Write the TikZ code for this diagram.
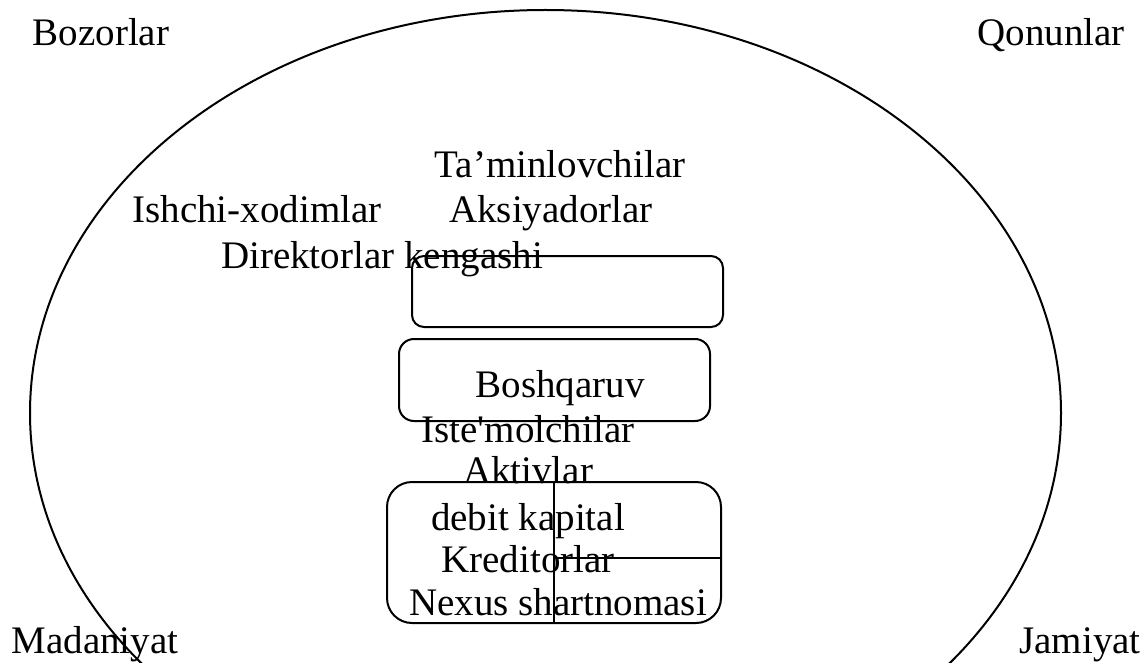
\documentclass[tikz,border=0pt]{standalone}
\usepackage{fontspec}
\setmainfont{Liberation Serif}
\usetikzlibrary{positioning}

\begin{document}
\begin{tikzpicture}[x=1pt,y=-1pt,line width=2pt,
                    every node/.style={font=\fontsize{39}{47}\selectfont,inner sep=0pt},
                    word/.style={anchor=base},
                    box/.style={draw,rounded corners=#1}]
  \useasboundingbox (0,0) rectangle (1142,663);
  \clip (0,0) rectangle (1142,663);
  % outer environment
  \draw (545.5,413) ellipse [x radius=515.5pt, y radius=403pt];

  \node[word] (bozor)   at (101,46)   {Bozorlar};
  \node[word] (qonun)   at (1051,46)  {Qonunlar};
  \node[word] (madan)   at (95,653)   {Madaniyat};
  \node[word] (jamiyat) at (1080,653) {Jamiyat};

  % stakeholders
  \node[word] (taminot) at (560,178) {Ta’minlovchilar};
  \node[word] (ishchi)  at (257,222) {Ishchi-xodimlar};
  \node[word] (aksiya)  at (551,222) {Aksiyadorlar};
  \node[word] (direktor) at (382,268) {Direktorlar kengashi};

  % boxes
  \node[box=12pt, minimum width=311pt, minimum height=71pt]  (kengash) at (567.5,291.5) {};
  \node[box=15pt, minimum width=311pt, minimum height=82pt]  (boshq)   at (554.5,380) {};
  \node[box=25pt, minimum width=334pt, minimum height=141pt] (nexus)   at (554,552.5) {};
  \draw (nexus.north) -- (nexus.south);
  \draw ([yshift=-5pt]nexus.center) -- ([yshift=-5pt]nexus.east);

  \node[word] (boshqtxt) at (560,397) {Boshqaruv};
  \node[word] (istemol)  at (528,442) {Iste\textquotesingle molchilar};
  \node[word] (aktiv)    at (528,483) {Aktivlar};
  \node[word] (debit)    at (528,530) {debit kapital};
  \node[word] (kredit)   at (528,572) {Kreditorlar};
  \node[word] (shartn)   at (558,615) {Nexus shartnomasi};
\end{tikzpicture}
\end{document}
